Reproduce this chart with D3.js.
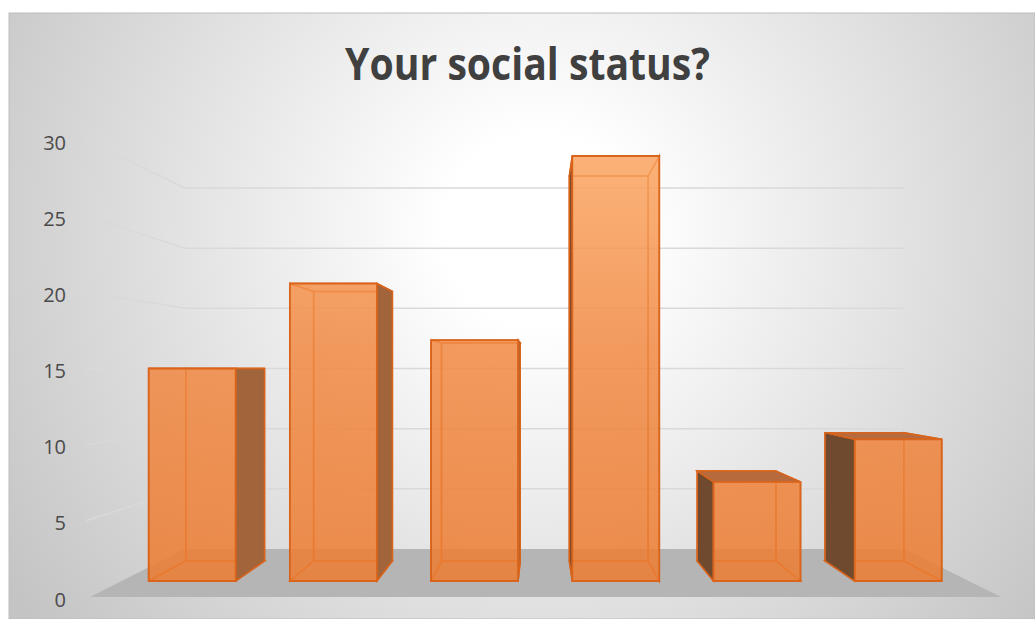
<!DOCTYPE html>
<html>
<head>
<meta charset="utf-8">
<script src="https://cdn.jsdelivr.net/npm/d3@7"></script>
<style>
  body { margin: 0; background: #fff; }
  svg { display: block; }
</style>
</head>
<body>
<script>
var width = 1035,
    height = 619;

// chart data
var categories = ["A", "B", "C", "D", "E", "F"];
var values = [15, 21, 17, 30, 7, 10];
var yTicks = [0, 5, 10, 15, 20, 25, 30];
var chartTitle = "Your social status?";

// perspective settings (front plane is z = 0, back wall is z = 1)
var vx = 541, vy = 368.5;   // vanishing point
var k = 0.266;              // depth shrink
var barZ0 = 0.283, barZ1 = 0.705;

var svg = d3.select("body").append("svg")
    .attr("width", width)
    .attr("height", height);

var defs = svg.append("defs");
var bg = defs.append("radialGradient")
    .attr("id", "bg-grad")
    .attr("gradientUnits", "userSpaceOnUse")
    .attr("cx", 540).attr("cy", 230).attr("r", 640);
bg.append("stop").attr("offset", 0).attr("stop-color", "#ffffff");
bg.append("stop").attr("offset", 0.15).attr("stop-color", "#ffffff");
bg.append("stop").attr("offset", 1).attr("stop-color", "#c4c4c4");

var frontGrad = defs.append("linearGradient")
    .attr("id", "front-grad")
    .attr("gradientUnits", "userSpaceOnUse")
    .attr("x1", 0).attr("y1", 150).attr("x2", 0).attr("y2", 590);
frontGrad.append("stop").attr("offset", 0).attr("stop-color", "#fba662");
frontGrad.append("stop").attr("offset", 0.45).attr("stop-color", "#f18a45");
frontGrad.append("stop").attr("offset", 1).attr("stop-color", "#ec7c31");

svg.append("rect")
    .attr("x", 9).attr("y", 13)
    .attr("width", width - 9).attr("height", height - 13)
    .attr("fill", "url(#bg-grad)")
    .attr("stroke", "#bdbdbd")
    .attr("stroke-width", 1);

svg.append("text")
    .attr("x", 527.5)
    .attr("y", 80)
    .attr("text-anchor", "middle")
    .attr("textLength", 365)
    .attr("lengthAdjust", "spacingAndGlyphs")
    .style("font-family", "'Open Sans', 'Noto Sans', sans-serif")
    .style("font-weight", "700")
    .style("font-size", "45px")
    .style("fill", "#404040")
    .text(chartTitle);

// scales on the front plane
var y = d3.scaleLinear().domain([0, 30]).range([597, 140]);
var x = d3.scaleBand()
    .domain(categories)
    .range([90, 1001])
    .paddingInner(0.384)
    .paddingOuter(0.192);

function proj(X, Y, z) {
    var s = 1 / (1 + k * z);
    return [vx + (X - vx) * s, vy + (Y - vy) * s];
}
function poly(pts) {
    return "M" + pts.map(function (p) { return p[0] + "," + p[1]; }).join("L") + "Z";
}

var xL = x.range()[0], xR = x.range()[1];

// floor
svg.append("path")
    .attr("d", poly([proj(xL, y(0), 0), proj(xR, y(0), 0), proj(xR, y(0), 1), proj(xL, y(0), 1)]))
    .attr("fill", "#b5b5b5");

// gridlines: side wall + back wall
var grid = svg.append("g")
    .attr("fill", "none")
    .attr("stroke", "#d9d9d9")
    .attr("stroke-width", 1.5);
grid.selectAll("path")
    .data(yTicks.filter(function (d) { return d > 0; }))
    .join("path")
    .attr("d", function (d) {
        var a = proj(xL - 4, y(d), 0), b = proj(xL, y(d), 1), c = proj(xR, y(d), 1);
        return "M" + a + "L" + b + "L" + c;
    });

// tick labels
svg.append("g")
    .selectAll("text")
    .data(yTicks)
    .join("text")
    .attr("x", 66)
    .attr("y", function (d) { return y(d) + 2.5; })
    .attr("dy", "0.35em")
    .attr("text-anchor", "end")
    .style("font-family", "'Open Sans', 'Noto Sans', sans-serif")
    .style("font-size", "20px")
    .style("fill", "#4a4a4a")
    .text(function (d) { return d; });

// bars as translucent boxes
var edge = "#d9641c";
var bars = svg.append("g").selectAll("g")
    .data(values.map(function (v, i) { return { cat: categories[i], value: v }; }))
    .join("g");

bars.each(function (d) {
    var g = d3.select(this);
    var X0 = x(d.cat), X1 = X0 + x.bandwidth();
    var Yt = y(d.value), Yb = y(0);
    var fTL = proj(X0, Yt, barZ0), fTR = proj(X1, Yt, barZ0),
        fBR = proj(X1, Yb, barZ0), fBL = proj(X0, Yb, barZ0);
    var bTL = proj(X0, Yt, barZ1), bTR = proj(X1, Yt, barZ1),
        bBR = proj(X1, Yb, barZ1), bBL = proj(X0, Yb, barZ1);
    var center = (X0 + X1) / 2;
    var rightVisible = center < vx;
    var topVisible = Yt > vy + 1;

    // hidden back edges, seen through the front
    [[bTL, bTR, bBR, bBL], [fBL, fBR, bBR, bBL],
     rightVisible ? [fTL, bTL, bBL, fBL] : [fTR, bTR, bBR, fBR]].forEach(function (f) {
        g.append("path").attr("d", poly(f))
            .attr("fill", "none").attr("stroke", edge).attr("stroke-width", 1.5);
    });
    if (!topVisible) {
        g.append("path").attr("d", poly([fTL, fTR, bTR, bTL]))
            .attr("fill", "none").attr("stroke", edge).attr("stroke-width", 1.5);
    }
    // visible side
    g.append("path")
        .attr("d", poly(rightVisible ? [fTR, bTR, bBR, fBR] : [fTL, bTL, bBL, fBL]))
        .attr("fill", rightVisible ? "#a2643a" : "#6f4a2f")
        .attr("stroke", edge).attr("stroke-width", 1.5);
    if (topVisible) {
        g.append("path").attr("d", poly([fTL, fTR, bTR, bTL]))
            .attr("fill", "#b76a3b")
            .attr("stroke", edge).attr("stroke-width", 1.5);
    }
    // front face
    g.append("path")
        .attr("d", poly([fTL, fTR, fBR, fBL]))
        .attr("fill", "url(#front-grad)")
        .attr("fill-opacity", 0.86)
        .attr("stroke", edge).attr("stroke-width", 1.8);
});
</script>
</body>
</html>
